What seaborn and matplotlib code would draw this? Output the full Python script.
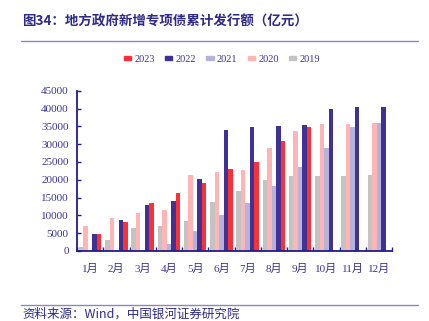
import matplotlib
matplotlib.use("Agg")
import matplotlib.pyplot as plt
import matplotlib.lines as mlines
import matplotlib.patches as mpatches
import numpy as np
import pandas as pd
import seaborn as sns

months = ["1月", "2月", "3月", "4月", "5月", "6月", "7月", "8月", "9月", "10月", "11月", "12月"]
years = ["2019", "2020", "2021", "2022", "2023"]
v2019 = [1200, 3100, 6550, 7000, 8500, 13700, 16850, 20000, 21050, 21050, 21050, 21330]
v2020 = [7000, 9350, 10580, 11500, 21400, 22260, 22700, 29000, 33700, 35650, 35650, 36000]
v2021 = [0, 0, 0, 2000, 5700, 10000, 13470, 18250, 23580, 29000, 34900, 35800]
v2022 = [4770, 8700, 12900, 14000, 20200, 34000, 34700, 35200, 35450, 39950, 40400, 40400]
v2023 = [4800, 8250, 13550, 16200, 19000, 22900, 24900, 30950, 34700, None, None, None]
yticks = [0, 5000, 10000, 15000, 20000, 25000, 30000, 35000, 40000, 45000]

colors = {"2019": "#C3C3C3", "2020": "#FFB5B5", "2021": "#B6B3DB",
          "2022": "#3F3297", "2023": "#FF3035"}

rows = []
for y, vals in zip(years, [v2019, v2020, v2021, v2022, v2023]):
    for m, v in zip(months, vals):
        if v is not None:
            rows.append({"month": m, "year": y, "value": v})
df = pd.DataFrame(rows)

sns.set_style("white")
plt.rcParams["font.family"] = ["Liberation Serif", "Noto Sans CJK SC", "DejaVu Sans"]

navy = "#221C84"
txt = "#3A3596"

fig = plt.figure(figsize=(4.29, 3.21), dpi=100)
ax = fig.add_axes([77 / 429, 1 - 251 / 321, (392 - 77) / 429, (251 - 90.7) / 321])

sns.barplot(data=df, x="month", y="value", hue="year", order=months,
            hue_order=years, palette=colors, errorbar=None, width=0.86,
            saturation=1, ax=ax, legend=False, linewidth=0)

ax.set_xlim(-0.5, 11.5)
ax.set_ylim(0, 45000)
ax.set_yticks(yticks)
ax.set_yticklabels([str(t) for t in yticks])
ax.set_xlabel("")
ax.set_ylabel("")
for s in ["top", "right"]:
    ax.spines[s].set_visible(False)
for s in ["left", "bottom"]:
    ax.spines[s].set_color(navy)
    ax.spines[s].set_linewidth(1.3)

ax.tick_params(axis="y", direction="in", length=3, width=1, color=navy,
               labelsize=8, labelcolor=txt, pad=6, left=True)
ax.set_xticks(np.arange(12))
ax.set_xticklabels(months)
ax.tick_params(axis="x", which="major", length=0, labelsize=8, labelcolor=txt, pad=9)
ax.set_xticks(np.arange(-0.5, 12, 1), minor=True)
ax.tick_params(axis="x", which="minor", direction="in", length=3, width=1,
               color=navy, bottom=True)
ax.grid(False)

handles = [mpatches.Patch(color=colors[y], label=y) for y in reversed(years)]
fig.legend(handles=handles, loc="center", bbox_to_anchor=(222 / 429, 1 - 59 / 321),
           ncol=5, frameon=False, fontsize=7.5, handlelength=0.7, handleheight=0.25,
           handletextpad=0.3, columnspacing=1.0, labelcolor=txt)

fig.text(22 / 429, 1 - 22 / 321, "图34：地方政府新增专项债累计发行额（亿元）",
         fontsize=9.7, fontweight="bold", color="#2E2A8A", va="center", ha="left",
         family=["Noto Sans CJK SC", "DejaVu Sans"])
fig.add_artist(mlines.Line2D([21 / 429, 418 / 429], [1 - 41 / 321, 1 - 41 / 321],
                             color="#8A86BE", linewidth=1))
fig.add_artist(mlines.Line2D([21 / 429, 418 / 429], [1 - 305 / 321, 1 - 305 / 321],
                             color="#8A86BE", linewidth=1))
fig.text(22 / 429, 1 - 314 / 321, "资料来源：Wind，中国银河证券研究院",
         fontsize=9, color="#2E2A8A", va="center", ha="left",
         family=["Noto Sans CJK SC", "DejaVu Sans"])

fig.savefig("out.png", dpi=100)
